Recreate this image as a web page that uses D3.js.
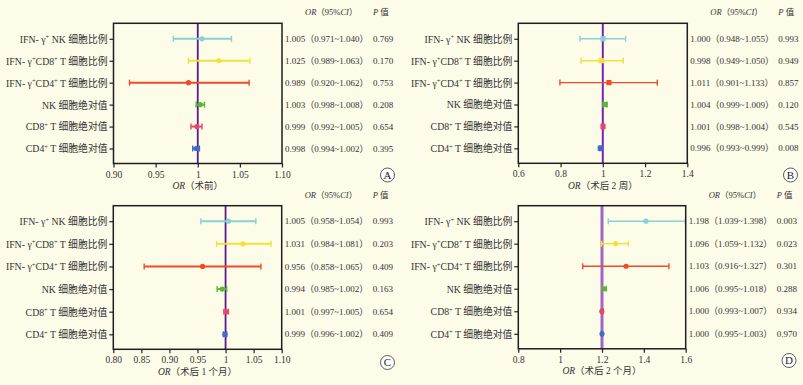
<!DOCTYPE html>
<html>
<head>
<meta charset="utf-8">
<script src="https://cdn.jsdelivr.net/npm/d3@7"></script>
<style>
  body { margin: 0; background: #fdfce8; }
  svg { display: block; font-family: "Liberation Serif", "Noto Sans CJK SC", serif; }
</style>
</head>
<body>
<svg id="chart" width="803" height="385"></svg>
<script>
// row labels, "^+" marks a superscript plus
const rowLabels = [
  "IFN- γ^+ NK 细胞比例",
  "IFN- γ^+CD8^+ T 细胞比例",
  "IFN- γ^+CD4^+ T 细胞比例",
  "NK 细胞绝对值",
  "CD8^+ T 细胞绝对值",
  "CD4^+ T 细胞绝对值"
];
const rowColors = ["#86d2d6", "#f2e13c", "#f04b27", "#5bb53a", "#e8466a", "#3d6dc4"];

const panelLetters = ["A", "B", "C", "D"];
const axisTitles = ["（术前）", "（术后 2 周）", "（术后 1 个月）", "（术后 2 个月）"];
const xDomains = [[0.9, 1.1], [0.6, 1.4], [0.8, 1.1], [0.8, 1.6]];
const tickValues = [
  [0.9, 0.95, 1, 1.05, 1.1],
  [0.6, 0.8, 1, 1.2, 1.4],
  [0.8, 0.85, 0.9, 0.95, 1, 1.05, 1.1],
  [0.8, 1, 1.2, 1.4, 1.6]
];
const tickLabels = [
  ["0.90", "0.95", "1", "1.05", "1.10"],
  ["0.6", "0.8", "1", "1.2", "1.4"],
  ["0.80", "0.85", "0.90", "0.95", "1", "1.05", "1.10"],
  ["0.8", "1", "1.2", "1.4", "1.6"]
];
const refValues = [1, 1, 1, 1.2];

// values as drawn in each panel (point, lower, upper)
const pointA = [1.005, 1.025, 0.989, 1.003, 0.999, 0.998];
const lowA   = [0.971, 0.989, 0.919, 0.998, 0.992, 0.994];
const highA  = [1.040, 1.062, 1.061, 1.008, 1.005, 1.002];
const pointB = [1.001, 0.993, 1.029, 1.010, 1.001, 0.988];
const lowB   = [0.892, 0.897, 0.797, 1.002, 0.996, 0.985];
const highB  = [1.108, 1.097, 1.258, 1.020, 1.006, 0.991];
const pointC = [1.005, 1.031, 0.959, 0.994, 1.001, 0.999];
const lowC   = [0.956, 0.984, 0.855, 0.985, 0.997, 0.996];
const highC  = [1.054, 1.081, 1.063, 1.002, 1.005, 1.002];
const pointD = [1.410, 1.265, 1.315, 1.210, 1.199, 1.200];
const lowD   = [1.230, 1.198, 1.108, 1.200, 1.196, 1.198];
const highD  = [1.598, 1.326, 1.520, 1.220, 1.206, 1.202];

// table text
const orA = ["1.005", "1.025", "0.989", "1.003", "0.999", "0.998"];
const ciA = ["0.971~1.040", "0.989~1.063", "0.920~1.062", "0.998~1.008", "0.992~1.005", "0.994~1.002"];
const pA  = ["0.769", "0.170", "0.753", "0.208", "0.654", "0.395"];
const orB = ["1.000", "0.998", "1.011", "1.004", "1.001", "0.996"];
const ciB = ["0.948~1.055", "0.949~1.050", "0.901~1.133", "0.999~1.009", "0.998~1.004", "0.993~0.999"];
const pB  = ["0.993", "0.949", "0.857", "0.120", "0.545", "0.008"];
const orC = ["1.005", "1.031", "0.956", "0.994", "1.001", "0.999"];
const ciC = ["0.958~1.054", "0.984~1.081", "0.858~1.065", "0.985~1.002", "0.997~1.005", "0.996~1.002"];
const pC  = ["0.993", "0.203", "0.409", "0.163", "0.654", "0.409"];
const orD = ["1.198", "1.096", "1.103", "1.006", "1.000", "1.000"];
const ciD = ["1.039~1.398", "1.059~1.132", "0.916~1.327", "0.995~1.018", "0.993~1.007", "0.995~1.003"];
const pD  = ["0.003", "0.023", "0.301", "0.288", "0.934", "0.970"];

const panels = [
  { point: pointA, low: lowA, high: highA, or: orA, ci: ciA, p: pA,
    box: [113.5, 282, 23.3, 163.5], mark: "circle", refColor: "#5a1a8c", refWidth: 1.8, letter: [387.5, 175] },
  { point: pointB, low: lowB, high: highB, or: orB, ci: ciB, p: pB,
    box: [518.3, 687.3, 23.3, 163.3], mark: "square", refColor: "#7a22b0", refWidth: 2, letter: [790.5, 175] },
  { point: pointC, low: lowC, high: highC, or: orC, ci: ciC, p: pC,
    box: [113.3, 281.7, 205.7, 349.3], mark: "circle", refColor: "#5a1a8c", refWidth: 1.8, letter: [387.5, 362.5] },
  { point: pointD, low: lowD, high: highD, or: orD, ci: ciD, p: pD,
    box: [518.3, 685.7, 205.7, 348.8], mark: "circle", refColor: "#a066c4", refWidth: 3, letter: [789, 360.5] }
];

const svg = d3.select("#chart");
svg.append("rect").attr("width", 803).attr("height", 385).attr("fill", "#fdfce8");

function addLabel(sel, label) {
  let shift = 0;
  label.split("^+").forEach((part, i, arr) => {
    const ts = sel.append("tspan").text(part);
    if (shift) ts.attr("dy", shift);
    if (i < arr.length - 1) {
      sel.append("tspan").attr("dy", -3.5).attr("font-size", 6.5).text("+");
      shift = 3.5;
    }
  });
}

panels.forEach((pn, k) => {
  const [x0, x1, y0, y1] = pn.box;
  const g = svg.append("g");
  const x = d3.scaleLinear().domain(xDomains[k]).range([x0, x1]);
  const y = d3.scalePoint().domain(d3.range(6)).range([y0 + 15.5, y1 - 15]);

  // bottom axis
  const xAxis = d3.axisBottom(x)
    .tickValues(tickValues[k])
    .tickFormat((d, i) => tickLabels[k][i])
    .tickSize(4).tickSizeOuter(0);
  const ax = g.append("g").attr("transform", `translate(0,${y1})`).call(xAxis)
    .attr("font-family", null).attr("font-size", null);
  ax.select(".domain").remove();
  ax.selectAll("line").attr("stroke", "#222").attr("stroke-width", 1.2);
  ax.selectAll("text").attr("font-size", 9.5).attr("fill", "#333").attr("dy", null).attr("y", 14);

  // left axis ticks with labels
  const yAxis = d3.axisLeft(y).tickSize(4).tickFormat("");
  const ay = g.append("g").attr("transform", `translate(${x0},0)`).call(yAxis)
    .attr("font-family", null).attr("font-size", null);
  ay.select(".domain").remove();
  ay.selectAll("line").attr("stroke", "#222").attr("stroke-width", 1.2);
  ay.selectAll(".tick text").remove();
  ay.selectAll(".tick").append("text")
    .attr("x", -6).attr("dy", "0.35em").attr("text-anchor", "end")
    .attr("font-size", 9.8).attr("fill", "#333")
    .each(function(d) { addLabel(d3.select(this), rowLabels[d]); });

  // reference line
  g.append("line")
    .attr("x1", x(refValues[k])).attr("x2", x(refValues[k]))
    .attr("y1", y0).attr("y2", y1)
    .attr("stroke", pn.refColor).attr("stroke-width", pn.refWidth);

  // error bars
  const rows = g.selectAll("g.row").data(d3.range(6)).join("g").attr("class", "row");
  const lw = k === 1 || k === 3 ? 1.4 : 2;
  rows.append("line")
    .attr("x1", i => x(pn.low[i])).attr("x2", i => x(pn.high[i]))
    .attr("y1", i => y(i)).attr("y2", i => y(i))
    .attr("stroke", i => rowColors[i]).attr("stroke-width", lw);
  [pn.low, pn.high].forEach(arr => {
    rows.append("line")
      .attr("x1", i => x(arr[i])).attr("x2", i => x(arr[i]))
      .attr("y1", i => y(i) - 3).attr("y2", i => y(i) + 3)
      .attr("stroke", i => rowColors[i]).attr("stroke-width", 1.4);
  });
  if (pn.mark === "square") {
    rows.append("rect")
      .attr("x", i => x(pn.point[i]) - 2.6).attr("y", i => y(i) - 2.6)
      .attr("width", 5.2).attr("height", 5.2)
      .attr("fill", i => rowColors[i]);
  } else {
    rows.append("circle")
      .attr("cx", i => x(pn.point[i])).attr("cy", i => y(i)).attr("r", 2.6)
      .attr("fill", i => rowColors[i]);
  }

  // frame
  g.append("rect")
    .attr("x", x0).attr("y", y0).attr("width", x1 - x0).attr("height", y1 - y0)
    .attr("fill", "none").attr("stroke", "#1e1e1e").attr("stroke-width", 1.5);

  // x title
  const t = g.append("text")
    .attr("x", (x0 + x1) / 2).attr("y", y1 + 25.5)
    .attr("text-anchor", "middle").attr("font-size", 9.5).attr("fill", "#333");
  t.append("tspan").attr("font-style", "italic").text("OR");
  t.append("tspan").text(axisTitles[k]);

  // table header
  const h = g.append("text").attr("x", x1 + 23).attr("y", y0 - 8)
    .attr("font-size", 8.5).attr("fill", "#333");
  h.append("tspan").attr("font-style", "italic").text("OR");
  h.append("tspan").text("（95%");
  h.append("tspan").attr("font-style", "italic").text("CI");
  h.append("tspan").text("）");
  const hp = g.append("text").attr("x", x1 + 91).attr("y", y0 - 8)
    .attr("font-size", 8.5).attr("fill", "#333");
  hp.append("tspan").attr("font-style", "italic").text("P");
  hp.append("tspan").text(" 值");

  // table rows
  rows.append("text")
    .attr("x", x1 + 3).attr("y", i => y(i)).attr("dy", "0.35em")
    .attr("font-size", 9).attr("fill", "#333")
    .text(i => `${pn.or[i]}（${pn.ci[i]}）`);
  rows.append("text")
    .attr("x", x1 + 91).attr("y", i => y(i)).attr("dy", "0.35em")
    .attr("font-size", 9).attr("fill", "#333")
    .text(i => pn.p[i]);

  // panel letter
  g.append("circle").attr("cx", pn.letter[0]).attr("cy", pn.letter[1]).attr("r", 7)
    .attr("fill", "#fff").attr("stroke", "#333").attr("stroke-width", 0.8);
  g.append("text").attr("x", pn.letter[0]).attr("y", pn.letter[1]).attr("dy", "0.36em")
    .attr("text-anchor", "middle").attr("font-size", 11).attr("fill", "#222")
    .text(panelLetters[k]);
});
</script>
</body>
</html>
